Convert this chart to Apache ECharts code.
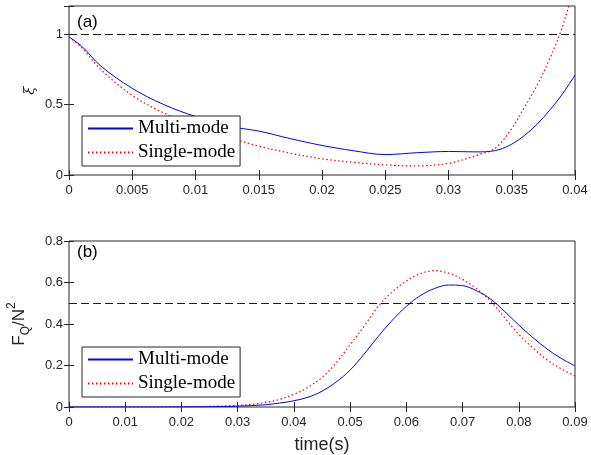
<!DOCTYPE html>
<html>
<head>
<meta charset="utf-8">
<script src="https://cdn.jsdelivr.net/npm/echarts@6/dist/echarts.min.js"></script>
<style>
html,body{margin:0;padding:0;background:#fff;}
#chart{width:591px;height:455px;}
</style>
</head>
<body>
<div id="chart"></div>
<script>
// ---- Panel (a): xi vs time ----
var timeA = [0, 0.001, 0.0025, 0.005, 0.0075, 0.01, 0.0125, 0.015, 0.0175, 0.02, 0.0225, 0.025, 0.0275, 0.03, 0.0315, 0.0325, 0.0333, 0.034, 0.035, 0.036, 0.037, 0.038, 0.0388, 0.0395, 0.04];
var multiA = [0.98, 0.915, 0.775, 0.615, 0.50, 0.415, 0.348, 0.312, 0.258, 0.21, 0.172, 0.145, 0.158, 0.167, 0.165, 0.164, 0.168, 0.18, 0.219, 0.28, 0.36, 0.46, 0.55, 0.64, 0.71];
var singleA = [0.98, 0.905, 0.75, 0.565, 0.44, 0.345, 0.27, 0.205, 0.155, 0.115, 0.09, 0.072, 0.064, 0.083, 0.118, 0.148, 0.17, 0.215, 0.33, 0.48, 0.636, 0.826, 1.0, 1.195, 1.35];
var refA = 1;
var yTicksA = [0, 0.5, 1];

// ---- Panel (b): F_Q/N^2 vs time ----
var timeB = [0, 0.005, 0.01, 0.015, 0.02, 0.025, 0.03, 0.0325, 0.035, 0.0375, 0.04, 0.0425, 0.045, 0.0475, 0.05, 0.0525, 0.055, 0.0575, 0.06, 0.0625, 0.065, 0.0675, 0.07, 0.0725, 0.075, 0.0775, 0.08, 0.0825, 0.085, 0.0875, 0.09];
var multiB = [0, 0, 0, 0, 0.0005, 0.0015, 0.004, 0.007, 0.011, 0.019, 0.030, 0.047, 0.076, 0.12, 0.178, 0.255, 0.34, 0.418, 0.485, 0.537, 0.571, 0.588, 0.585, 0.56, 0.52, 0.46, 0.395, 0.335, 0.28, 0.235, 0.198];
var singleB = [0, 0, 0, 0, 0.001, 0.003, 0.008, 0.013, 0.022, 0.037, 0.061, 0.095, 0.142, 0.212, 0.30, 0.39, 0.485, 0.555, 0.607, 0.643, 0.657, 0.645, 0.615, 0.57, 0.51, 0.43, 0.35, 0.285, 0.228, 0.185, 0.149];
var refB = 0.5;

var seriesNames = ['Multi-mode', 'Single-mode'];

function pairs(xs, ys) { return xs.map(function (x, i) { return [x, ys[i]]; }); }

var axisColor = '#262626';
var labelFont = {color: axisColor, fontFamily: 'Liberation Sans, Arial, sans-serif', fontSize: 13};

function xAx(gi, max, interval, pos, showLabel, extra) {
  var o = {
    type: 'value', gridIndex: gi, min: 0, max: max, interval: interval, position: pos,
    axisLine: {show: false},
    axisTick: {show: true, inside: true, length: 5, lineStyle: {color: axisColor}},
    splitLine: {show: false},
    axisLabel: Object.assign({show: showLabel, margin: 9}, labelFont)
  };
  return Object.assign(o, extra || {});
}
function yAx(gi, max, interval, pos, showLabel, extra, fmt) {
  var o = {
    type: 'value', gridIndex: gi, min: 0, max: max, interval: interval, position: pos,
    axisLine: {show: false},
    axisTick: {show: true, inside: true, length: 5, lineStyle: {color: axisColor}},
    splitLine: {show: false},
    axisLabel: Object.assign({show: showLabel, margin: 6, formatter: fmt}, labelFont)
  };
  return Object.assign(o, extra || {});
}

var dash = {color: '#1a1a1a', width: 1, type: [8, 4]};
function refLine(v) {
  return {silent: true, symbol: 'none', label: {show: false}, lineStyle: dash, data: [{yAxis: v}]};
}

var legendBase = {
  orient: 'vertical', left: 82, data: seriesNames,
  itemWidth: 45, itemHeight: 14, itemGap: 5,
  padding: [3, 5, 4, 5],
  itemStyle: {opacity: 0},
  borderColor: axisColor, borderWidth: 1, backgroundColor: '#fff',
  textStyle: {fontFamily: 'Liberation Serif, Times New Roman, serif', fontSize: 19, color: '#000'}
};

var chart = echarts.init(document.getElementById('chart'), null, {renderer: 'canvas'});
chart.setOption({
  animation: false,
  backgroundColor: '#fff',
  grid: [
    {left: 69, right: 16, top: 6, height: 169, outerBoundsMode: 'none', containLabel: false, show: true, borderColor: axisColor, borderWidth: 1, backgroundColor: 'transparent'},
    {left: 69, right: 16, top: 241, height: 166, outerBoundsMode: 'none', containLabel: false, show: true, borderColor: axisColor, borderWidth: 1, backgroundColor: 'transparent'}
  ],
  legend: [
    Object.assign({}, legendBase, {top: 116}),
    Object.assign({}, legendBase, {top: 347})
  ],
  xAxis: [
    xAx(0, 0.04, 0.005, 'bottom', true),
    xAx(0, 0.04, 0.005, 'top', false),
    xAx(1, 0.09, 0.01, 'bottom', true, {
      name: 'time(s)', nameLocation: 'middle', nameGap: 29, nameMoveOverlap: false,
      nameTextStyle: {color: axisColor, fontFamily: 'Liberation Sans, Arial, sans-serif', fontSize: 18}
    }),
    xAx(1, 0.09, 0.01, 'top', false)
  ],
  yAxis: [
    yAx(0, 1.2, 0.5, 'left', true, {
      name: 'ξ', nameLocation: 'middle', nameGap: 31, nameRotate: 90, nameMoveOverlap: false,
      nameTextStyle: {color: axisColor, fontFamily: 'DejaVu Serif, serif', fontStyle: 'italic', fontSize: 15}
    }, function (v) { return yTicksA.indexOf(v) >= 0 ? String(v) : ''; }),
    yAx(0, 1.2, 0.5, 'right', false),
    yAx(1, 0.8, 0.2, 'left', true, {
      name: '{m|F}{sub|Q}{m|/N}{sup|2}', nameLocation: 'middle', nameGap: 37, nameRotate: 90, nameMoveOverlap: false,
      nameTextStyle: {
        color: axisColor, fontFamily: 'Liberation Sans, Arial, sans-serif', fontSize: 17,
        rich: {
          m: {fontSize: 17, color: axisColor, fontFamily: 'Liberation Sans, Arial, sans-serif', lineHeight: 26, verticalAlign: 'middle'},
          sub: {fontSize: 12, color: axisColor, fontFamily: 'Liberation Sans, Arial, sans-serif', lineHeight: 26, verticalAlign: 'bottom'},
          sup: {fontSize: 12, color: axisColor, fontFamily: 'Liberation Sans, Arial, sans-serif', lineHeight: 26, verticalAlign: 'top'}
        }
      }
    }),
    yAx(1, 0.8, 0.2, 'right', false)
  ],
  graphic: [
    {type: 'text', left: 77, top: 14, style: {text: '(a)', fontFamily: 'Liberation Sans, Arial, sans-serif', fontSize: 17, fill: '#000'}},
    {type: 'text', left: 77, top: 244, style: {text: '(b)', fontFamily: 'Liberation Sans, Arial, sans-serif', fontSize: 17, fill: '#000'}}
  ],
  series: [
    {name: seriesNames[0], type: 'line', xAxisIndex: 0, yAxisIndex: 0, data: pairs(timeA, multiA), smooth: 0.35, symbol: 'none', lineStyle: {color: '#0000ff', width: 1}, itemStyle: {color: '#0000ff'}, clip: true, z: 3, markLine: refLine(refA)},
    {name: seriesNames[1], type: 'line', xAxisIndex: 0, yAxisIndex: 0, data: pairs(timeA, singleA), smooth: 0.35, symbol: 'none', lineStyle: {color: '#ff0000', width: 1.2, type: [1.5, 2.5]}, itemStyle: {color: '#ff0000'}, clip: true, z: 2},
    {name: seriesNames[0], type: 'line', xAxisIndex: 2, yAxisIndex: 2, data: pairs(timeB, multiB), smooth: 0.35, symbol: 'none', lineStyle: {color: '#0000ff', width: 1}, itemStyle: {color: '#0000ff'}, clip: true, z: 3, markLine: refLine(refB)},
    {name: seriesNames[1], type: 'line', xAxisIndex: 2, yAxisIndex: 2, data: pairs(timeB, singleB), smooth: 0.35, symbol: 'none', lineStyle: {color: '#ff0000', width: 1.2, type: [1.5, 2.5]}, itemStyle: {color: '#ff0000'}, clip: true, z: 2}
  ]
});
</script>
</body>
</html>
